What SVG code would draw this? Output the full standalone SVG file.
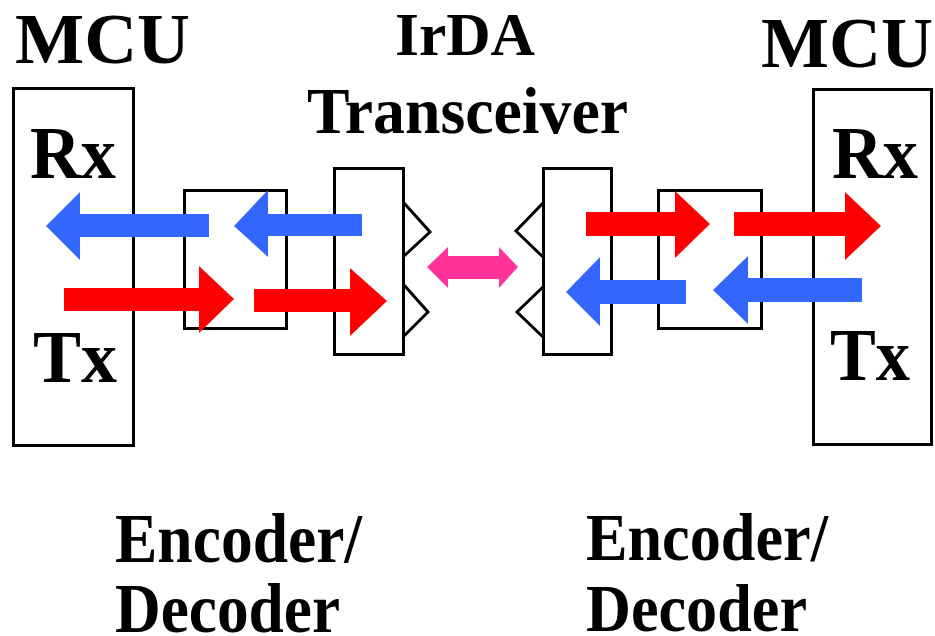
<svg xmlns="http://www.w3.org/2000/svg" width="935" height="636" viewBox="0 0 935 636">
<style>
.box{fill:none;stroke:#000;stroke-width:3}
.tri{fill:none;stroke:#000;stroke-width:3;stroke-linejoin:miter}
.t{font-family:"Liberation Serif","Times New Roman",serif;font-weight:bold;fill:#000}
.red{fill:#FF0000}
.blue{fill:#3366FF}
.pink{fill:#FF3399}
</style>
<rect width="935" height="636" fill="#fff"/>
<g id="mcu-left">
<rect class="box" x="13.5" y="88.5" width="120" height="357"/>
<text class="t" x="15" y="63" font-size="71" textLength="175" lengthAdjust="spacingAndGlyphs">MCU</text>
<text class="t" x="30" y="178" font-size="74" textLength="86" lengthAdjust="spacingAndGlyphs">Rx</text>
<text class="t" x="33" y="382" font-size="74" textLength="84" lengthAdjust="spacingAndGlyphs">Tx</text>
</g>
<g id="encoder-left">
<rect class="box" x="184.5" y="190.5" width="102" height="138"/>
<text class="t" x="115" y="562" font-size="70" textLength="247" lengthAdjust="spacingAndGlyphs">Encoder/</text>
<text class="t" x="115" y="632" font-size="70" textLength="225" lengthAdjust="spacingAndGlyphs">Decoder</text>
</g>
<g id="transceiver-left">
<rect class="box" x="334.5" y="168.5" width="69" height="186"/>
<polyline class="tri" points="404,203 430,232 404,256"/>
<polyline class="tri" points="404,285 428,312 404,336"/>
</g>
<g id="irda-label">
<text class="t" x="395" y="55" font-size="61" textLength="140" lengthAdjust="spacingAndGlyphs">IrDA</text>
<text class="t" x="307" y="133" font-size="66" textLength="321" lengthAdjust="spacingAndGlyphs">Transceiver</text>
</g>
<g id="transceiver-right">
<rect class="box" x="543.5" y="168.5" width="68" height="186"/>
<polyline class="tri" points="543,203 516,231 543,257"/>
<polyline class="tri" points="543,287 517,312 543,337"/>
</g>
<g id="encoder-right">
<rect class="box" x="658.5" y="190.5" width="103" height="138"/>
<text class="t" x="586" y="560" font-size="68" textLength="242" lengthAdjust="spacingAndGlyphs">Encoder/</text>
<text class="t" x="586" y="631" font-size="68" textLength="221" lengthAdjust="spacingAndGlyphs">Decoder</text>
</g>
<g id="mcu-right">
<rect class="box" x="813.5" y="89.5" width="118" height="355"/>
<text class="t" x="761" y="67" font-size="72" textLength="172" lengthAdjust="spacingAndGlyphs">MCU</text>
<text class="t" x="832" y="178" font-size="74" textLength="86" lengthAdjust="spacingAndGlyphs">Rx</text>
<text class="t" x="830" y="380" font-size="74" textLength="80" lengthAdjust="spacingAndGlyphs">Tx</text>
</g>
<g id="connectors">
<polygon class="blue" points="46,226 80,192 80,214 209,214 209,237 80,237 80,260"/>
<polygon class="blue" points="234,226 268,190 268,214 362,214 362,236 268,236 268,257"/>
<polygon class="red" points="234,299 199,266 199,288 64,288 64,311 199,311 199,333"/>
<polygon class="red" points="387,301 350,268 350,289 254,289 254,312 350,312 350,336"/>
<polygon class="pink" points="427,267 448,247 448,256 499,256 499,247 518,267 499,288 499,279 448,279 448,288"/>
<polygon class="red" points="710,224 675,191 675,212 586,212 586,236 675,236 675,258"/>
<polygon class="red" points="881,226 845,192 845,212 734,212 734,236 845,236 845,260"/>
<polygon class="blue" points="566,292 600,257 600,280 686,280 686,304 600,304 600,326"/>
<polygon class="blue" points="713,290 748,256 748,278 862,278 862,302 748,302 748,324"/>
</g>
</svg>
